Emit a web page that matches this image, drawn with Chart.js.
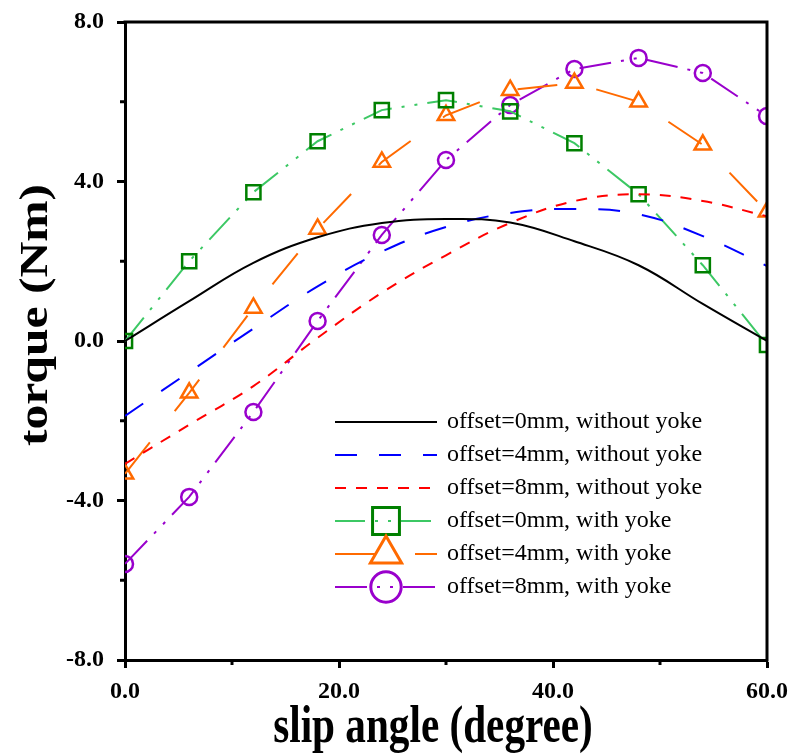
<!DOCTYPE html>
<html>
<head>
<meta charset="utf-8">
<script src="https://cdn.jsdelivr.net/npm/chart.js@4/dist/chart.umd.min.js"></script>
<style>
  html, body { margin: 0; padding: 0; background: #ffffff; }
  canvas { display: block; }
</style>
</head>
<body>
<canvas id="c" width="792" height="755"></canvas>
<script>
// ---------- data ----------
const slipAngles = [0, 6, 12, 18, 24, 30, 36, 42, 48, 54, 60];

const off0NoYoke = [0, 1.0, 1.96, 2.6, 2.96, 3.06, 2.97, 2.5, 1.9, 0.93, 0];
const off4NoYoke = [-1.88, -0.78, 0.31, 1.37, 2.24, 2.86, 3.21, 3.31, 3.18, 2.63, 1.88];
const off8NoYoke = [-3.08, -2.1, -1.13, 0.08, 1.21, 2.15, 2.96, 3.51, 3.68, 3.51, 3.13];

const off0Yoke = [0, 2.0, 3.73, 5.01, 5.79, 6.04, 5.76, 4.96, 3.68, 1.9, -0.1];
const off4Yoke = [-3.33, -1.3, 0.83, 2.81, 4.49, 5.66, 6.29, 6.47, 6.0, 4.92, 3.24];
const off8Yoke = [-5.59, -3.91, -1.78, 0.5, 2.66, 4.54, 5.92, 6.82, 7.1, 6.72, 5.64];

const seriesLabels = [
  'offset=0mm, without yoke',
  'offset=4mm, without yoke',
  'offset=8mm, without yoke',
  'offset=0mm, with yoke',
  'offset=4mm, with yoke',
  'offset=8mm, with yoke'
];

const xMajorTicks = [0, 20, 40, 60];
const xMinorTicks = [10, 30, 50];
const yMajorTicks = [-8, -4, 0, 4, 8];
const yMinorTicks = [-6, -2, 2, 6];

const xTitle = 'slip angle (degree)';
const yTitle = 'torque (Nm)';

// ---------- helpers ----------
const toPts = (ys) => ys.map((y, i) => ({ x: slipAngles[i], y }));
const SERIF = "'Liberation Serif', 'Times New Roman', serif";

function drawMarker(ctx, style, x, y, r) {
  ctx.beginPath();
  if (style === 'rect') {
    const s = r * Math.SQRT1_2;
    ctx.rect(x - s, y - s, 2 * s, 2 * s);
  } else if (style === 'triangle') {
    ctx.moveTo(x, y - r);
    ctx.lineTo(x + r * Math.sin(Math.PI / 3), y + r * 0.5);
    ctx.lineTo(x - r * Math.sin(Math.PI / 3), y + r * 0.5);
    ctx.closePath();
  } else {
    ctx.arc(x, y, r, 0, Math.PI * 2);
  }
  ctx.stroke();
}

const frameAndMinorTicks = {
  id: 'frameAndMinorTicks',
  afterDraw(chart) {
    const ctx = chart.ctx, a = chart.chartArea;
    const xs = chart.scales.x, ys = chart.scales.y;
    ctx.save();
    ctx.strokeStyle = '#000';
    ctx.lineWidth = 3;
    ctx.beginPath();
    ctx.moveTo(a.left - 1.5, a.top);
    ctx.lineTo(a.right, a.top);
    ctx.lineTo(a.right, a.bottom + 1.5);
    ctx.stroke();
    xMinorTicks.forEach(v => {
      const px = xs.getPixelForValue(v);
      ctx.beginPath();
      ctx.moveTo(px, a.bottom);
      ctx.lineTo(px, a.bottom + 5);
      ctx.stroke();
    });
    yMinorTicks.forEach(v => {
      const py = ys.getPixelForValue(v);
      ctx.beginPath();
      ctx.moveTo(a.left, py);
      ctx.lineTo(a.left - 5, py);
      ctx.stroke();
    });
    ctx.restore();
  }
};

// axis titles (stretched like the reference's tall serif lettering)
const axisTitles = {
  id: 'axisTitles',
  afterDraw(chart) {
    const ctx = chart.ctx, a = chart.chartArea;
    ctx.save();
    ctx.fillStyle = '#000';
    ctx.font = 'bold 40px ' + SERIF;
    ctx.textAlign = 'center';
    ctx.textBaseline = 'alphabetic';
    ctx.save();
    ctx.translate((a.left + a.right) / 2 - 13, a.bottom + 82);
    ctx.scale(1.03, 1.32);
    ctx.fillText(xTitle, 0, 0);
    ctx.restore();
    ctx.save();
    ctx.translate(a.left - 78, (a.top + a.bottom) / 2 - 26);
    ctx.rotate(-Math.PI / 2);
    ctx.scale(1.24, 1);
    ctx.fillText(yTitle, 0, 0);
    ctx.restore();
    ctx.restore();
  }
};

const customLegend = {
  id: 'customLegend',
  afterDraw(chart) {
    const ctx = chart.ctx, a = chart.chartArea;
    const lx0 = a.left + 210, lx1 = a.left + 312, tx = a.left + 322;
    const y0 = a.top + 400, dy = 33;
    chart.data.datasets.forEach((ds, i) => {
      const y = y0 + i * dy;
      ctx.save();
      ctx.strokeStyle = ds.borderColor;
      ctx.lineWidth = ds.borderWidth;
      ctx.setLineDash(ds.borderDash || []);
      ctx.beginPath();
      ctx.moveTo(lx0, y);
      ctx.lineTo(lx1, y);
      ctx.stroke();
      ctx.setLineDash([]);
      if (ds.pointRadius > 0) {
        ctx.strokeStyle = ds.pointBorderColor;
        ctx.lineWidth = 3;
        drawMarker(ctx, ds.pointStyle, (lx0 + lx1) / 2, y, ds.pointRadius * 1.9);
      }
      ctx.fillStyle = '#000';
      ctx.font = '24px ' + SERIF;
      ctx.textBaseline = 'middle';
      ctx.textAlign = 'left';
      ctx.fillText(ds.label, tx, y);
      ctx.restore();
    });
  }
};

const noYoke = (label, data, color, dash) => ({
  label, data: toPts(data), borderColor: color, borderWidth: 2, borderDash: dash,
  pointRadius: 0, tension: 0.4, fill: false
});
const withYoke = (label, data, lineColor, markColor, style, radius, dash) => ({
  label, data: toPts(data), borderColor: lineColor, borderWidth: 2, borderDash: dash,
  tension: 0, fill: false,
  pointStyle: style, pointRadius: radius, pointBorderColor: markColor,
  pointBackgroundColor: 'rgba(0,0,0,0)', pointBorderWidth: 2.5, pointHoverRadius: radius
});

new Chart(document.getElementById('c'), {
  type: 'line',
  data: {
    datasets: [
      noYoke(seriesLabels[0], off0NoYoke, '#000000', []),
      noYoke(seriesLabels[1], off4NoYoke, '#0000FF', [22, 22]),
      noYoke(seriesLabels[2], off8NoYoke, '#FF0000', [11, 10]),
      withYoke(seriesLabels[3], off0Yoke, '#3CC864', '#008000', 'rect', 10, [30, 10, 3, 10, 3, 10]),
      withYoke(seriesLabels[4], off4Yoke, '#FF6A00', '#FF6A00', 'triangle', 9.5, [40, 40]),
      withYoke(seriesLabels[5], off8Yoke, '#9900CC', '#9900CC', 'circle', 8, [32, 10, 3, 10, 3, 10])
    ]
  },
  options: {
    responsive: false,
    animation: false,
    layout: { padding: { left: 0, right: 25, top: 22, bottom: 0 } },
    plugins: { legend: { display: false }, tooltip: { enabled: false } },
    scales: {
      x: {
        type: 'linear', min: 0, max: 60,
        afterBuildTicks: s => { s.ticks = xMajorTicks.map(v => ({ value: v })); },
        afterFit: s => { s.height = 95; s.paddingLeft = 0; s.paddingRight = 0; },
        ticks: {
          color: '#000', padding: 9,
          font: { family: SERIF, size: 24, weight: 'bold' },
          callback: v => Number(v).toFixed(1),
          maxRotation: 0
        },
        grid: { drawOnChartArea: false, drawTicks: true, tickLength: 8, tickWidth: 3, tickColor: '#000' },
        border: { display: true, width: 3, color: '#000' },
        title: { display: false, text: xTitle }
      },
      y: {
        type: 'linear', min: -8, max: 8,
        afterBuildTicks: s => { s.ticks = yMajorTicks.map(v => ({ value: v })); },
        afterFit: s => { s.width = 125; s.paddingTop = 0; s.paddingBottom = 0; },
        ticks: {
          color: '#000', padding: 13,
          font: { family: SERIF, size: 24, weight: 'bold' },
          callback: v => Number(v).toFixed(1)
        },
        grid: { drawOnChartArea: false, drawTicks: true, tickLength: 8, tickWidth: 3, tickColor: '#000' },
        border: { display: true, width: 3, color: '#000' },
        title: { display: false, text: yTitle }
      }
    }
  },
  plugins: [frameAndMinorTicks, axisTitles, customLegend]
});
</script>
</body>
</html>
